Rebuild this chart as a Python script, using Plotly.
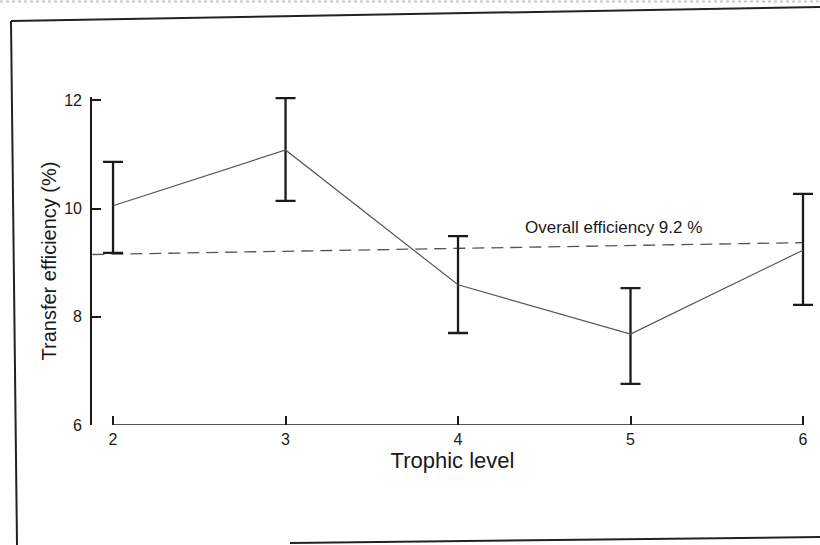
import plotly.graph_objects as go

# ---- data ----
trophic_level = [2, 3, 4, 5, 6]
efficiency = [10.05, 11.08, 8.59, 7.68, 9.23]
err_upper = [10.86, 12.04, 9.49, 8.53, 10.27]
err_lower = [9.18, 10.14, 7.70, 6.76, 8.22]

overall_x = [1.88, 6.0]
overall_y = [9.15, 9.37]
overall_label = "Overall efficiency 9.2 %"

y_ticks = [6, 8, 10, 12]
x_ticks = [2, 3, 4, 5, 6]

# ---- layout geometry (pixels) ----
W, H = 820, 545
ML, MR, MT, MB = 92, 7, 97, 120
X_RANGE = [1.878, 6.058]
Y_RANGE = [6.0, 12.06]
FONT = "Liberation Sans"
INK = "#1a1a1a"

plot_w = W - ML - MR
plot_h = H - MT - MB


def px(x):
    return (x - ML) / plot_w


def py(y):
    return (H - MB - y) / plot_h


plus = [u - m for u, m in zip(err_upper, efficiency)]
minus = [m - l for m, l in zip(efficiency, err_lower)]

fig = go.Figure()

fig.add_trace(go.Scatter(
    x=overall_x, y=overall_y, mode="lines",
    line=dict(color="#555555", width=1.3, dash="12px,7px"),
    hoverinfo="skip", showlegend=False,
))

fig.add_trace(go.Scatter(
    x=trophic_level, y=efficiency, mode="lines",
    line=dict(color="#555555", width=1.2),
    error_y=dict(type="data", symmetric=False, array=plus, arrayminus=minus,
                 color=INK, thickness=2.3, width=10),
    showlegend=False,
))

# detached x-axis baseline spanning the trophic levels
fig.add_shape(type="line", xref="x", yref="y",
              x0=min(x_ticks), x1=max(x_ticks), y0=Y_RANGE[0], y1=Y_RANGE[0],
              line=dict(color=INK, width=1.6))

# scanned page frame
frame = dict(color="#222222", width=2)
fig.add_shape(type="line", xref="paper", yref="paper",
              x0=px(11), y0=py(21), x1=px(17), y1=py(545), line=frame)
fig.add_shape(type="line", xref="paper", yref="paper",
              x0=px(11), y0=py(21), x1=px(820), y1=py(7), line=frame)
fig.add_shape(type="line", xref="paper", yref="paper",
              x0=px(290), y0=py(543), x1=px(820), y1=py(537), line=frame)
fig.add_shape(type="line", xref="paper", yref="paper",
              x0=px(0), y0=py(1.5), x1=px(820), y1=py(1.5),
              line=dict(color="#c8c8c8", width=2, dash="dot"))

fig.add_annotation(
    text=overall_label, x=4.90, y=9.64, xref="x", yref="y",
    showarrow=False, font=dict(family=FONT, size=17, color=INK),
)

fig.update_layout(
    width=W, height=H,
    margin=dict(l=ML, r=MR, t=MT, b=MB, autoexpand=False),
    paper_bgcolor="white", plot_bgcolor="white",
    font=dict(family=FONT, color=INK),
    xaxis=dict(
        range=X_RANGE, tickvals=x_ticks, ticktext=[str(v) for v in x_ticks],
        ticks="inside", ticklen=9, tickwidth=1.6, tickcolor=INK,
        showline=False, showgrid=False, zeroline=False,
        tickfont=dict(size=16, family=FONT, color=INK),
        ticklabelstandoff=3,
        title=dict(text="Trophic level", font=dict(size=22, family=FONT, color=INK),
                   standoff=4),
    ),
    yaxis=dict(
        range=Y_RANGE, tickvals=y_ticks, ticktext=[str(v) for v in y_ticks],
        ticks="inside", ticklen=9, tickwidth=1.6, tickcolor=INK,
        showline=True, linecolor=INK, linewidth=1.6,
        showgrid=False, zeroline=False,
        tickfont=dict(size=16, family=FONT, color=INK),
        ticklabelstandoff=5,
        title=dict(text="Transfer efficiency (%)",
                   font=dict(size=20, family=FONT, color=INK), standoff=2),
    ),
)

fig.write_html("out.html",
               config={"displayModeBar": False},
               post_script="document.body.style.margin='0';"
                           "document.body.style.overflow='hidden';")
